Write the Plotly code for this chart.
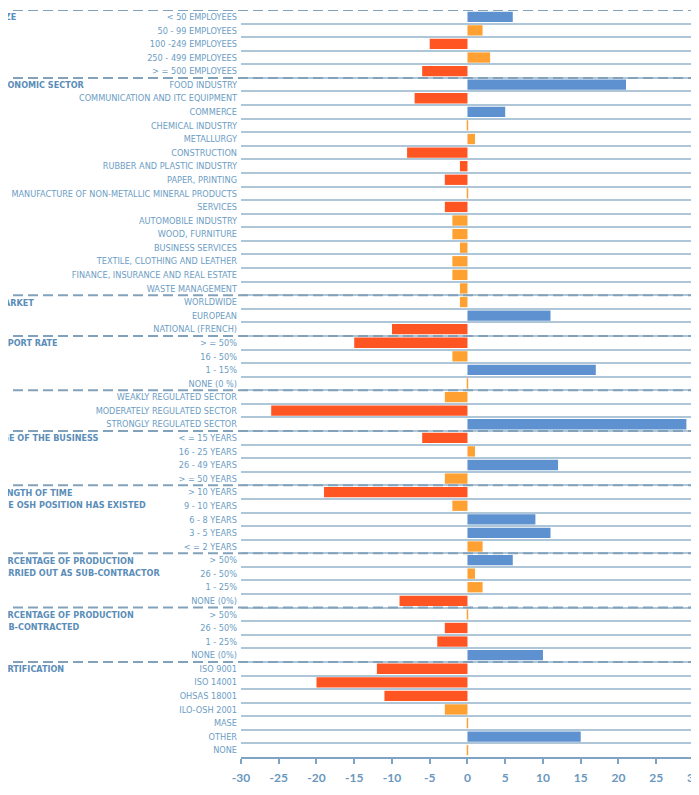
import plotly.graph_objects as go

# ---- data ----
groups = [
    ("SIZE", ["< 50 EMPLOYEES", "50 - 99 EMPLOYEES", "100 -249 EMPLOYEES", "250 - 499 EMPLOYEES", "> = 500 EMPLOYEES"]),
    ("ECONOMIC SECTOR", ["FOOD INDUSTRY", "COMMUNICATION AND ITC EQUIPMENT", "COMMERCE", "CHEMICAL INDUSTRY",
                         "METALLURGY", "CONSTRUCTION", "RUBBER AND PLASTIC INDUSTRY", "PAPER, PRINTING",
                         "MANUFACTURE OF NON-METALLIC MINERAL PRODUCTS", "SERVICES", "AUTOMOBILE INDUSTRY",
                         "WOOD, FURNITURE", "BUSINESS SERVICES", "TEXTILE, CLOTHING AND LEATHER",
                         "FINANCE, INSURANCE AND REAL ESTATE", "WASTE MANAGEMENT"]),
    ("MARKET", ["WORLDWIDE", "EUROPEAN", "NATIONAL (FRENCH)"]),
    ("EXPORT RATE", ["> = 50%", "16 - 50%", "1 - 15%", "NONE (0 %)"]),
    ("", ["WEAKLY REGULATED SECTOR", "MODERATELY REGULATED SECTOR", "STRONGLY REGULATED SECTOR"]),
    ("AGE OF THE BUSINESS", ["< = 15 YEARS", "16 - 25 YEARS", "26 - 49 YEARS", "> = 50 YEARS"]),
    ("LENGTH OF TIME<br>THE OSH POSITION HAS EXISTED", ["> 10 YEARS", "9 - 10 YEARS", "6 - 8 YEARS", "3 - 5 YEARS", "< = 2 YEARS"]),
    ("PERCENTAGE OF PRODUCTION<br>CARRIED OUT AS SUB-CONTRACTOR", ["> 50%", "26 - 50%", "1 - 25%", "NONE (0%)"]),
    ("PERCENTAGE OF PRODUCTION<br>SUB-CONTRACTED", ["> 50%", "26 - 50%", "1 - 25%", "NONE (0%)"]),
    ("CERTIFICATION", ["ISO 9001", "ISO 14001", "OHSAS 18001", "ILO-OSH 2001", "MASE", "OTHER", "NONE"]),
]

values = [6, 2, -5, 3, -6,
          21, -7, 5, 0, 1, -8, -1, -3, 0, -3, -2, -2, -1, -2, -2, -1,
          -1, 11, -10,
          -15, -2, 17, 0,
          -3, -26, 29,
          -6, 1, 12, -3,
          -19, -2, 9, 11, 2,
          6, 1, 2, -9,
          0, -3, -4, 10,
          -12, -20, -11, -3, 0, 15, 0]

kinds = ["b", "o", "r", "o", "r",
         "b", "r", "b", "o", "o", "r", "r", "r", "o", "r", "o", "o", "o", "o", "o", "o",
         "o", "b", "r",
         "r", "o", "b", "o",
         "o", "r", "b",
         "r", "o", "b", "o",
         "r", "o", "b", "b", "o",
         "b", "o", "o", "r",
         "o", "r", "r", "b",
         "r", "r", "r", "o", "o", "b", "o"]

x_ticks = [-30, -25, -20, -15, -10, -5, 0, 5, 10, 15, 20, 25, 30]

# ---- styling ----
palette = {"b": "#5E91CF", "o": "#FFA033", "r": "#FF5522"}
label_color = "#6C9DC4"
group_color = "#5A8DB8"
dash_color = "#82A2BB"
grid_color = "#AFC6D9"
FONT = "DejaVu Sans Condensed, Liberation Sans Narrow, DejaVu Sans, sans-serif"

labels = [lab for _, labs in groups for lab in labs]
n = len(labels)
ypos = list(range(n))

L, PW = 233, 458  # left margin and plot width (px)

fig = go.Figure()
fig.add_trace(go.Bar(
    x=values, y=ypos, orientation="h",
    marker=dict(color=[palette[k] for k in kinds],
                line=dict(color=[palette[k] for k in kinds],
                          width=[1.5 if v == 0 else 0 for v in values])),
    width=0.76, hoverinfo="x+text", hovertext=labels,
))

shapes = []
annotations = []
start = 0
for title, labs in groups:
    shapes.append(dict(type="line", xref="paper", yref="y", x0=-(L + 10) / PW, x1=1,
                       y0=start - 0.5, y1=start - 0.5,
                       line=dict(color=dash_color, width=2, dash="10px,5px")))
    if title:
        annotations.append(dict(xref="paper", yref="y", x=(-14.5 - L) / PW, y=start,
                                text="<b>" + title + "</b>", showarrow=False,
                                xanchor="left", yanchor="top", yshift=6.5, align="left",
                                font=dict(family=FONT, size=9, color=group_color)))
    start += len(labs)

fig.update_layout(
    width=L + PW, height=776,
    margin=dict(l=L, r=0, t=2, b=27),
    plot_bgcolor="white", paper_bgcolor="white",
    showlegend=False,
    shapes=shapes, annotations=annotations,
    bargap=0.24,
)
fig.update_yaxes(
    automargin=False,
    range=[n - 0.5, -0.5], tickmode="array", tickvals=ypos, ticktext=labels,
    showgrid=False, zeroline=False, showline=False, ticks="",
    tickfont=dict(family=FONT, size=9.1, color=label_color),
    ticklabelstandoff=3,
    minor=dict(tickmode="array", tickvals=[i + 0.5 for i in range(n - 1)],
               showgrid=True, gridcolor=grid_color, gridwidth=1.5, ticks=""),
)
fig.update_xaxes(
    automargin=False,
    range=[-30, 30.67], tickmode="array", tickvals=x_ticks, ticktext=[str(t) for t in x_ticks],
    showgrid=False, zeroline=False, showline=True, linecolor="#7FA3C2", linewidth=1.5,
    ticks="outside", ticklen=5, tickwidth=1.5, tickcolor="#7FA3C2",
    ticklabelstandoff=4, ticklabeloverflow="allow",
    tickfont=dict(family="Lato, Liberation Sans, sans-serif", size=12, color="#6A97BD", weight="bold"),
)

fig.write_html("out.html")
